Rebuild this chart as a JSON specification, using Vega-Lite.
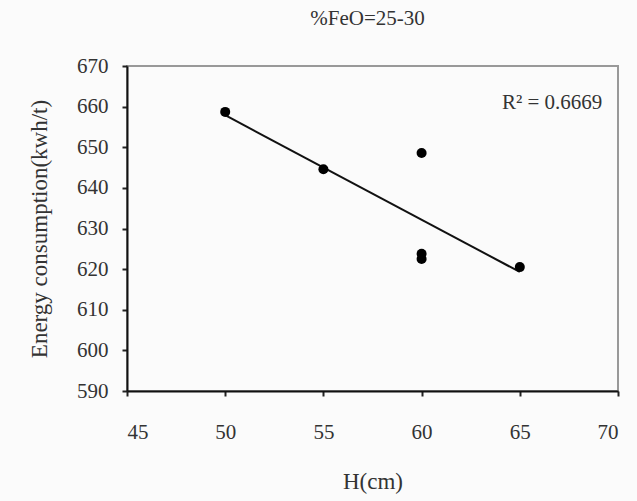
{
  "$schema": "https://vega.github.io/schema/vega-lite/v6.json",
  "width": 491,
  "height": 325,
  "autosize": {"type": "none"},
  "padding": {"left": 127, "top": 66, "right": 19, "bottom": 110},
  "background": "#fbfbfb",
  "title": {"text": "%FeO=25-30", "fontSize": 21, "fontWeight": "normal", "font": "Liberation Serif", "color": "#333", "offset": 26, "anchor": "middle", "dx": -5},
  "datasets": {
    "pts": [
      {"H": 50, "E": 658.7},
      {"H": 55, "E": 644.6},
      {"H": 60, "E": 648.6},
      {"H": 60, "E": 623.8},
      {"H": 60, "E": 622.5},
      {"H": 65, "E": 620.5}
    ],
    "lbl": [
      {"H": 69.2, "E": 661, "text": "R² = 0.6669"}
    ]
  },
  "layer": [
    {
      "data": {"name": "pts"},
      "transform": [{"regression": "E", "on": "H"}],
      "mark": {"type": "line", "color": "#111", "strokeWidth": 2},
      "encoding": {
        "x": {"field": "H", "type": "quantitative"},
        "y": {"field": "E", "type": "quantitative"}
      }
    },
    {
      "data": {"name": "pts"},
      "mark": {"type": "circle", "color": "#000", "size": 100, "opacity": 1},
      "encoding": {
        "x": {"field": "H", "type": "quantitative", "scale": {"domain": [45, 70], "nice": false, "zero": false}, "axis": {"values": [45, 50, 55, 60, 65, 70], "title": "H(cm)", "labelPadding": 25, "titlePadding": 28, "labelDx": 5}},
        "y": {"field": "E", "type": "quantitative", "scale": {"domain": [590, 670], "nice": false, "zero": false}, "axis": {"values": [590, 600, 610, 620, 630, 640, 650, 660, 670], "title": "Energy consumption(kwh/t)", "labelPadding": 14, "titlePadding": 25}}
      }
    },
    {
      "data": {"name": "lbl"},
      "mark": {"type": "text", "align": "right", "baseline": "middle", "fontSize": 21, "font": "Liberation Serif", "color": "#333"},
      "encoding": {
        "x": {"field": "H", "type": "quantitative"},
        "y": {"field": "E", "type": "quantitative"},
        "text": {"field": "text"}
      }
    }
  ],
  "config": {
    "font": "Liberation Serif",
    "view": {"stroke": "#999", "strokeWidth": 2},
    "axis": {
      "grid": false,
      "labelFont": "Liberation Serif",
      "labelFontSize": 21,
      "labelColor": "#333",
      "titleFont": "Liberation Serif",
      "titleFontSize": 23,
      "titleFontWeight": "normal",
      "titleColor": "#333",
      "domainColor": "#111",
      "domainWidth": 2,
      "tickColor": "#222",
      "tickWidth": 2,
      "tickSize": 5
    }
  }
}
